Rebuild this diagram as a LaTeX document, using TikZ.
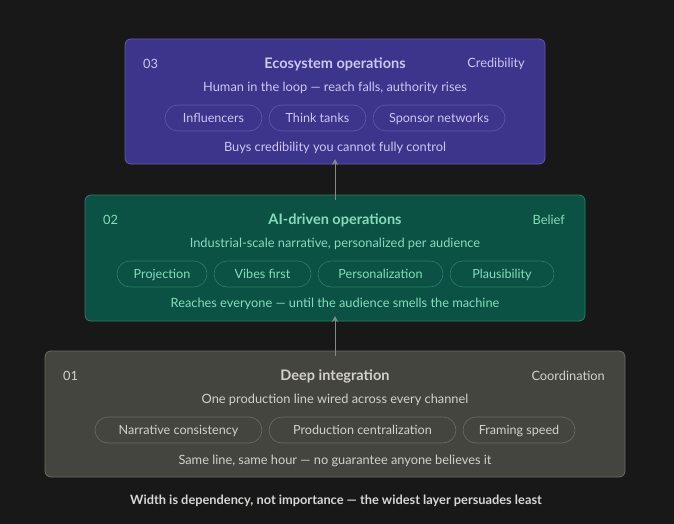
\documentclass[tikz,border=0pt]{standalone}
\usepackage{fontspec}
\setmainfont{Lato}
\usetikzlibrary{arrows.meta}
\definecolor{bg}{HTML}{181818}
\definecolor{pfill}{HTML}{3D348B}
\definecolor{pdraw}{HTML}{6058B0}
\definecolor{ptext}{HTML}{CCC7F2}
\definecolor{gfill}{HTML}{0B5144}
\definecolor{gdraw}{HTML}{2C7E68}
\definecolor{gtext}{HTML}{86DDBB}
\definecolor{sfill}{HTML}{45453F}
\definecolor{sdraw}{HTML}{6C6C66}
\definecolor{stext}{HTML}{D2D2CA}
\definecolor{arr}{HTML}{8A8A84}
\definecolor{cap}{HTML}{D8D8D0}
\tikzset{
  layer/.style={rounded corners=6pt, line width=0.8pt},
  pill/.style={draw, rounded corners=13pt, minimum height=26pt, inner sep=0pt, text height=10pt, text depth=1pt, line width=0.6pt, font=\fontsize{12.6}{14}\selectfont},
  txt/.style={inner sep=0pt, font=\fontsize{12.8}{14}\selectfont},
  ttl/.style={inner sep=0pt, font=\fontsize{14.5}{16}\selectfont\bfseries},
  upar/.style={draw=arr, line width=1pt, -{Stealth[length=6pt,width=6pt]}}
}
\begin{document}
\begin{tikzpicture}[x=1pt,y=-1pt]
\fill[bg] (0,0) rectangle (674,524);
\useasboundingbox (0,0) rectangle (674,524);
% Layer 3
\draw[layer, fill=pfill, draw=pdraw] (125,39) rectangle (545,164);
\node[coordinate] (l3b) at (335,164) {};
\node[txt, text=ptext, anchor=west] (n3) at (143,64) {03};
\node[ttl, text=ptext] (t3) at (335,64) {Ecosystem operations};
\node[txt, text=ptext, anchor=east] (r3) at (525,64) {Credibility};
\node[txt, text=ptext] (s3) at (335,88) {Human in the loop — reach falls, authority rises};
\node[pill, draw=pdraw, text=ptext, minimum width=97pt] (p31) at (213.5,118) {Influencers};
\node[pill, draw=pdraw, text=ptext, minimum width=97pt] (p32) at (317.5,118) {Think tanks};
\node[pill, draw=pdraw, text=ptext, minimum width=132pt] (p33) at (439,118) {Sponsor networks};
\node[txt, text=ptext] (b3) at (335,148) {Buys credibility you cannot fully control};
% Layer 2
\draw[layer, fill=gfill, draw=gdraw] (85,195) rectangle (585,321);
\node[coordinate] (l2t) at (335,195) {};
\node[coordinate] (l2b) at (335,321) {};
\node[txt, text=gtext, anchor=west] (n2) at (103,220) {02};
\node[ttl, text=gtext] (t2) at (335,220) {AI-driven operations};
\node[txt, text=gtext, anchor=east] (r2) at (565,220) {Belief};
\node[txt, text=gtext] (s2) at (335,244) {Industrial-scale narrative, personalized per audience};
\node[pill, draw=gdraw, text=gtext, minimum width=90pt] (p21) at (162,274) {Projection};
\node[pill, draw=gdraw, text=gtext, minimum width=97pt] (p22) at (262.5,274) {Vibes first};
\node[pill, draw=gdraw, text=gtext, minimum width=125pt] (p23) at (380.5,274) {Personalization};
\node[pill, draw=gdraw, text=gtext, minimum width=104pt] (p24) at (502,274) {Plausibility};
\node[txt, text=gtext] (b2) at (335,304) {Reaches everyone — until the audience smells the machine};
% Layer 1
\draw[layer, fill=sfill, draw=sdraw] (45,351) rectangle (625,477);
\node[coordinate] (l1t) at (335,351) {};
\node[txt, text=stext, anchor=west] (n1) at (63,376) {01};
\node[ttl, text=stext] (t1) at (335,376) {Deep integration};
\node[txt, text=stext, anchor=east] (r1) at (605,376) {Coordination};
\node[txt, text=stext] (s1) at (335,400) {One production line wired across every channel};
\node[pill, draw=sdraw, text=stext, minimum width=167pt] (p11) at (178.5,430) {Narrative consistency};
\node[pill, draw=sdraw, text=stext, minimum width=187pt] (p12) at (362.5,430) {Production centralization};
\node[pill, draw=sdraw, text=stext, minimum width=112pt] (p13) at (519,430) {Framing speed};
\node[txt, text=stext] (b1) at (335,461) {Same line, same hour — no guarantee anyone believes it};
% arrows
\draw[upar] ([yshift=-5pt]l2t) -- ([yshift=5pt]l3b);
\draw[upar] ([yshift=-5pt]l1t) -- ([yshift=5pt]l2b);
% caption
\node[inner sep=0pt, text=cap, font=\fontsize{12.8}{14}\selectfont\bfseries] (cap) at (336,501) {Width is dependency, not importance — the widest layer persuades least};
\end{tikzpicture}
\end{document}
